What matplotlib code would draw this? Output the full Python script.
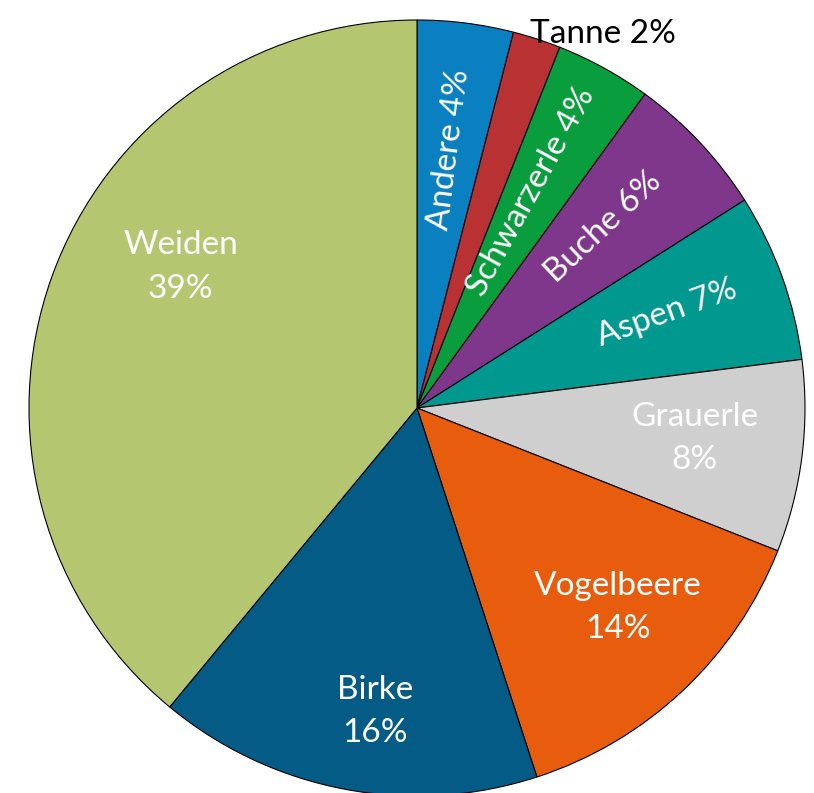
import numpy as np
import matplotlib
matplotlib.use('Agg')
import matplotlib.pyplot as plt

# Baumarten-Anteile, im Uhrzeigersinn ab 12 Uhr
species = ['Andere', 'Tanne', 'Schwarzerle', 'Buche', 'Aspen',
           'Grauerle', 'Vogelbeere', 'Birke', 'Weiden']
shares = [4, 2, 4, 6, 7, 8, 14, 16, 39]
colors = ['#0a80c0', '#b83234', '#0a9d3e', '#7f378c', '#00988f',
          '#cfcfcf', '#e85d0d', '#045b86', '#b4c770']

W, H = 814, 793
fig = plt.figure(figsize=(W / 100, H / 100), dpi=100)
cx, cy, R = 417, 408, 388
ax = fig.add_axes([(cx - R) / W, (H - cy - R) / H, 2 * R / W, 2 * R / H])
ax.set_aspect('equal')
ax.axis('off')

wedges, _ = ax.pie(shares, colors=colors, startangle=90, counterclock=False,
                   radius=1.0, center=(0, 0), frame=False,
                   wedgeprops=dict(edgecolor='black', linewidth=0.8))
ax.set_xlim(-1, 1)
ax.set_ylim(-1, 1)

font = ['Lato', 'DejaVu Sans']
fs = 24

# label style: (radius fraction, angle shift, rotated?)
style = {
    'Andere': (0.67, 0, True),
    'Schwarzerle': (0.63, 1, True),
    'Buche': (0.67, 1, True),
    'Aspen': (0.69, 1, True),
    'Grauerle': (0.72, 1, False),
    'Vogelbeere': (0.73, 2, False),
    'Birke': (0.79, 3, False),
    'Weiden': (0.71, -11, False),
}

for w, name, val in zip(wedges, species, shares):
    mid = (w.theta1 + w.theta2) / 2
    if name == 'Tanne':
        ax.text(0.29, 0.965, f'{name} {val}%', ha='left', va='center',
                fontsize=fs, color='black', family=font)
        continue
    r, shift, rot = style[name]
    a = np.deg2rad(mid + shift)
    x, y = r * np.cos(a), r * np.sin(a)
    if rot:
        ax.text(x, y, f'{name} {val}%', ha='center', va='center',
                rotation=mid, rotation_mode='anchor', fontsize=fs,
                color='white', family=font)
    else:
        ax.text(x, y, f'{name}\n{val}%', ha='center', va='center',
                fontsize=fs, color='white', family=font, linespacing=1.55)

fig.savefig('out.png', dpi=100)
